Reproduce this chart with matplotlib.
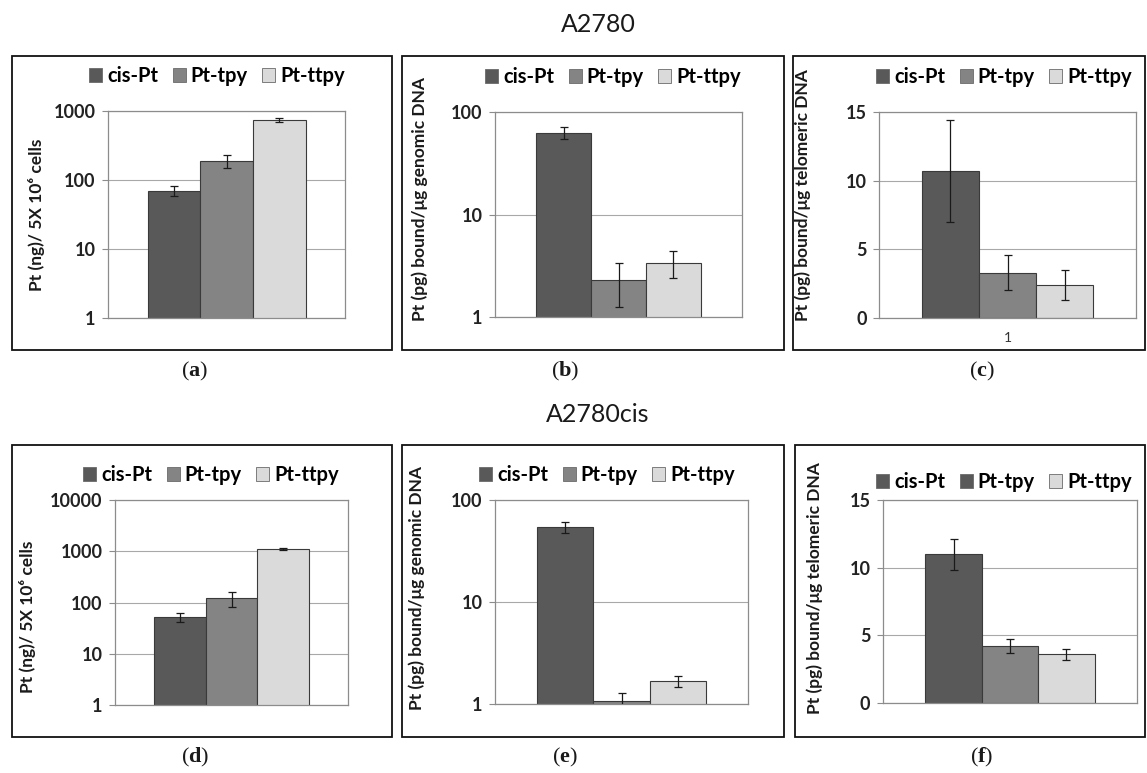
import matplotlib
matplotlib.use("Agg")
import numpy as np
from matplotlib import pyplot as plt
from matplotlib.patches import Patch, Rectangle

# ---- data ----
series = ["cis-Pt", "Pt-tpy", "Pt-ttpy"]

a_vals = [70, 190, 750]
a_err = [11, 40, 55]
b_vals = [63, 2.3, 3.4]
b_err = [8, 1.04, 1.0]
c_vals = [10.7, 3.3, 2.4]
c_err = [3.7, 1.27, 1.1]

d_vals = [52, 122, 1100]
d_err = [11, 40, 65]
e_vals = [54, 1.07, 1.68]
e_err = [7, 0.2, 0.21]
f_vals = [11.0, 4.2, 3.6]
f_err = [1.15, 0.5, 0.42]

log3_ticks = [1, 10, 100, 1000]
log4_ticks = [1, 10, 100, 1000, 10000]
log2_ticks = [1, 10, 100]
lin_ticks = [0, 5, 10, 15]

label_cells = "Pt (ng)/ 5X 10\u2076 cells"
label_gen = "Pt (pg) bound/\u03bcg genomic DNA"
label_tel = "Pt (pg) bound/\u03bcg telomeric DNA"

titles = ["A2780", "A2780cis"]
panel_tags = ["a", "b", "c", "d", "e", "f"]

bar_colors = ["#595959", "#848484", "#dadada"]

W, H = 1147, 773
plt.rcParams["mathtext.fontset"] = "custom"
plt.rcParams["mathtext.rm"] = "Liberation Serif"
plt.rcParams["mathtext.bf"] = "Liberation Serif:bold"
FONT = ["Lato", "DejaVu Sans"]


def rect(l, t, r, b):
    return [l / W, 1 - b / H, (r - l) / W, (b - t) / H]


def fxy(x, y):
    return x / W, 1 - y / H


fig = plt.figure(figsize=(W / 100, H / 100), dpi=100)

panels = [
    # vals, err, log?, ticks, ylabel, plot box, frame box, legend centre, ylabel pos, tag pos
    (a_vals, a_err, True, log3_ticks, label_cells, (108, 111, 345, 318), (12, 56, 392, 350), (217, 76), (37, 215), (195, 371)),
    (b_vals, b_err, True, log2_ticks, label_gen, (495, 112, 742, 317), (402, 56, 784, 350), (613, 77), (420, 199), (565, 371)),
    (c_vals, c_err, False, lin_ticks, label_tel, (879, 112, 1136, 318), (793, 56, 1145, 350), (1004, 77), (803, 195), (982, 371)),
    (d_vals, d_err, True, log4_ticks, label_cells, (115, 500, 348, 705), (12, 445, 392, 737), (211, 475), (28, 617), (195, 757)),
    (e_vals, e_err, True, log2_ticks, label_gen, (495, 500, 748, 704), (402, 445, 784, 737), (607, 475), (417, 588), (565, 757)),
    (f_vals, f_err, False, lin_ticks, label_tel, (883, 500, 1137, 703), (795, 445, 1145, 737), (1004, 482), (815, 588), (982, 757)),
]

w = 2 / 9
x_pos = np.array([-w, 0, w])

for i, (vals, err, logy, ticks, ylab, pbox, fbox, lpos, ypos, tpos) in enumerate(panels):
    l, t, r, b = fbox
    fig.patches.append(Rectangle((l / W, 1 - b / H), (r - l) / W, (b - t) / H,
                                 transform=fig.transFigure, fill=False,
                                 edgecolor="#111111", linewidth=1.3))

    ax = fig.add_axes(rect(*pbox))
    ax.bar(x_pos, vals, width=w, color=bar_colors, edgecolor="#3a3a3a",
           linewidth=0.8, zorder=2)
    ax.errorbar(x_pos, vals, yerr=err, fmt="none", ecolor="#1a1a1a",
                elinewidth=0.9, capsize=3, capthick=0.9, zorder=3)
    ax.set_xlim(-0.5, 0.5)
    if logy:
        ax.set_yscale("log")
    ax.set_ylim(ticks[0], ticks[-1])
    ax.set_yticks(ticks)
    ax.set_yticklabels([str(v) for v in ticks])
    ax.yaxis.set_minor_locator(matplotlib.ticker.NullLocator())
    ax.grid(axis="y", color="#a8a8a8", linewidth=0.8)
    ax.set_axisbelow(True)
    for s in ax.spines.values():
        s.set_color("#8c8c8c")
        s.set_linewidth(0.9)
    ax.tick_params(axis="y", length=4, color="#8c8c8c", pad=5,
                   labelsize=13, labelcolor="#222222")
    for lab in ax.get_yticklabels():
        lab.set_fontweight("bold")
        lab.set_family(FONT)
    if i == 2:
        ax.set_xticks([0])
        ax.set_xticklabels(["1"], family=FONT, fontsize=10, color="#333333")
        ax.tick_params(axis="x", length=0, pad=10)
    else:
        ax.set_xticks([])

    leg_colors = list(bar_colors)
    if i == 5:
        leg_colors[1] = bar_colors[0]
    handles = [Patch(facecolor=c, edgecolor="#6a6a6a", linewidth=0.6) for c in leg_colors]
    ax.legend(handles, series, loc="center", bbox_to_anchor=fxy(*lpos),
              bbox_transform=fig.transFigure, ncol=3, frameon=False,
              handlelength=0.65, handleheight=0.65, handletextpad=0.25,
              columnspacing=0.7, borderpad=0,
              prop={"family": FONT, "weight": "bold", "size": 14.5})

    fig.text(*fxy(*ypos), ylab, rotation=90, ha="center", va="center",
             family=FONT, fontweight="bold", fontsize=12.5, color="#1a1a1a")
    fig.text(*fxy(*tpos), r"($\mathbf{%s}$)" % panel_tags[i], ha="center",
             va="center", family="Liberation Serif", fontsize=16, color="#1a1a1a")

fig.text(*fxy(598, 25), titles[0], ha="center", va="center", family=FONT,
         fontsize=18, color="#1a1a1a")
fig.text(*fxy(598, 414), titles[1], ha="center", va="center", family=FONT,
         fontsize=18, color="#1a1a1a")

fig.savefig("out.png", dpi=100)
